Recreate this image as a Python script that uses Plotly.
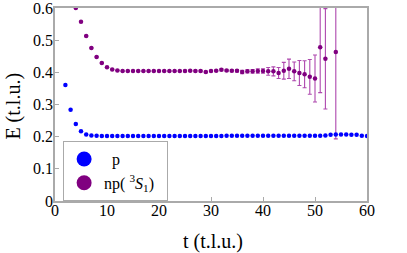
import plotly.graph_objects as go

t_p = list(range(2, 61))
E_p = [0.361, 0.284, 0.239, 0.217, 0.207, 0.204, 0.203, 0.202, 0.202, 0.202,
       0.202, 0.202, 0.202, 0.202, 0.202, 0.202, 0.202, 0.202, 0.202, 0.202,
       0.202, 0.202, 0.202, 0.202, 0.202, 0.202, 0.202, 0.202, 0.202, 0.202,
       0.202, 0.203, 0.203, 0.203, 0.203, 0.203, 0.203, 0.203, 0.203, 0.203,
       0.203, 0.203, 0.203, 0.203, 0.203, 0.203, 0.203, 0.203, 0.203, 0.203,
       0.204, 0.206, 0.207, 0.207, 0.207, 0.206, 0.206, 0.203, 0.202]

t_np = list(range(4, 53)) + [54]
E_np = [0.600, 0.557, 0.513, 0.476, 0.448, 0.429, 0.416, 0.409, 0.406, 0.404,
        0.404, 0.404, 0.404, 0.404, 0.404, 0.404, 0.404, 0.404, 0.404, 0.404,
        0.404, 0.404, 0.405, 0.404, 0.404, 0.401, 0.404, 0.405, 0.408, 0.406,
        0.405, 0.405, 0.401, 0.403, 0.403, 0.404, 0.404, 0.403, 0.403, 0.398,
        0.405, 0.411, 0.403, 0.398, 0.394, 0.386, 0.381, 0.478, 0.442, 0.463]
err_np = [0.001, 0.001, 0.001, 0.001, 0.001, 0.001, 0.001, 0.001, 0.001, 0.001,
          0.001, 0.001, 0.001, 0.001, 0.001, 0.001, 0.001, 0.001, 0.001, 0.001,
          0.001, 0.002, 0.002, 0.002, 0.002, 0.002, 0.002, 0.002, 0.003, 0.003,
          0.003, 0.004, 0.005, 0.005, 0.006, 0.007, 0.007, 0.012, 0.014, 0.017,
          0.026, 0.030, 0.029, 0.039, 0.042, 0.054, 0.073, 0.141, 0.156, 0.270]

x_ticks = [0, 10, 20, 30, 40, 50, 60]
y_ticks = [0, 0.1, 0.2, 0.3, 0.4, 0.5, 0.6]
y_tick_labels = ["0", "0.1", "0.2", "0.3", "0.4", "0.5", "0.6"]

BLUE = "#0000ff"
PURPLE = "#800080"
FONT = "Liberation Serif"

fig = go.Figure()
fig.add_trace(go.Scatter(
    x=t_np, y=E_np, mode="markers",
    marker=dict(color=PURPLE, size=4.5),
    error_y=dict(type="data", array=err_np, visible=True,
                 color="rgba(160,40,160,0.85)", thickness=1.1, width=2),
    showlegend=False))
fig.add_trace(go.Scatter(
    x=t_p, y=E_p, mode="markers",
    marker=dict(color=BLUE, size=4.5),
    showlegend=False))
# legend entries
fig.add_trace(go.Scatter(x=[None], y=[None], mode="markers",
                         marker=dict(color=BLUE, size=15), name="&nbsp;&nbsp;p"))
fig.add_trace(go.Scatter(x=[None], y=[None], mode="markers",
                         marker=dict(color=PURPLE, size=15),
                         name="np(&nbsp;<sup>3</sup><i>S</i><sub>1</sub>)&nbsp;&nbsp;"))

axis_common = dict(
    showgrid=False, zeroline=False, showline=True, mirror=True,
    linecolor="#aaaaaa", linewidth=1.5, automargin=False,
    ticks="inside", ticklen=4, tickcolor="#aaaaaa", tickwidth=1,
    tickfont=dict(family=FONT, size=16, color="black"),
    ticklabeloverflow="allow",
)

fig.update_layout(
    width=407, height=253,
    margin=dict(l=55, r=40, t=8, b=52),
    paper_bgcolor="white", plot_bgcolor="white",
    font=dict(family=FONT, size=16, color="black"),
    xaxis=dict(range=[0, 60], tickvals=x_ticks, ticklabelstandoff=-6,
               **axis_common),
    yaxis=dict(range=[0, 0.6], tickvals=y_ticks, ticktext=y_tick_labels,
               ticklabelstandoff=-3, **axis_common),
    legend=dict(x=0.026, y=0.155, xanchor="left", yanchor="middle",
                bgcolor="white", bordercolor="#aaaaaa", borderwidth=1,
                font=dict(family=FONT, size=16), itemsizing="trace",
                tracegroupgap=0, itemwidth=30),
    annotations=[
        dict(text="t (t.l.u.)", xref="paper", yref="paper", x=0.506, y=-0.212,
             xanchor="center", yanchor="middle", showarrow=False,
             font=dict(family=FONT, size=20)),
        dict(text="E (t.l.u.)", xref="paper", yref="paper", x=-0.136, y=0.492,
             xanchor="center", yanchor="middle", showarrow=False, textangle=-90,
             font=dict(family=FONT, size=20)),
    ],
)

fig.write_html("out.html", config={"displayModeBar": False},
               post_script="document.body.style.margin='0';")
